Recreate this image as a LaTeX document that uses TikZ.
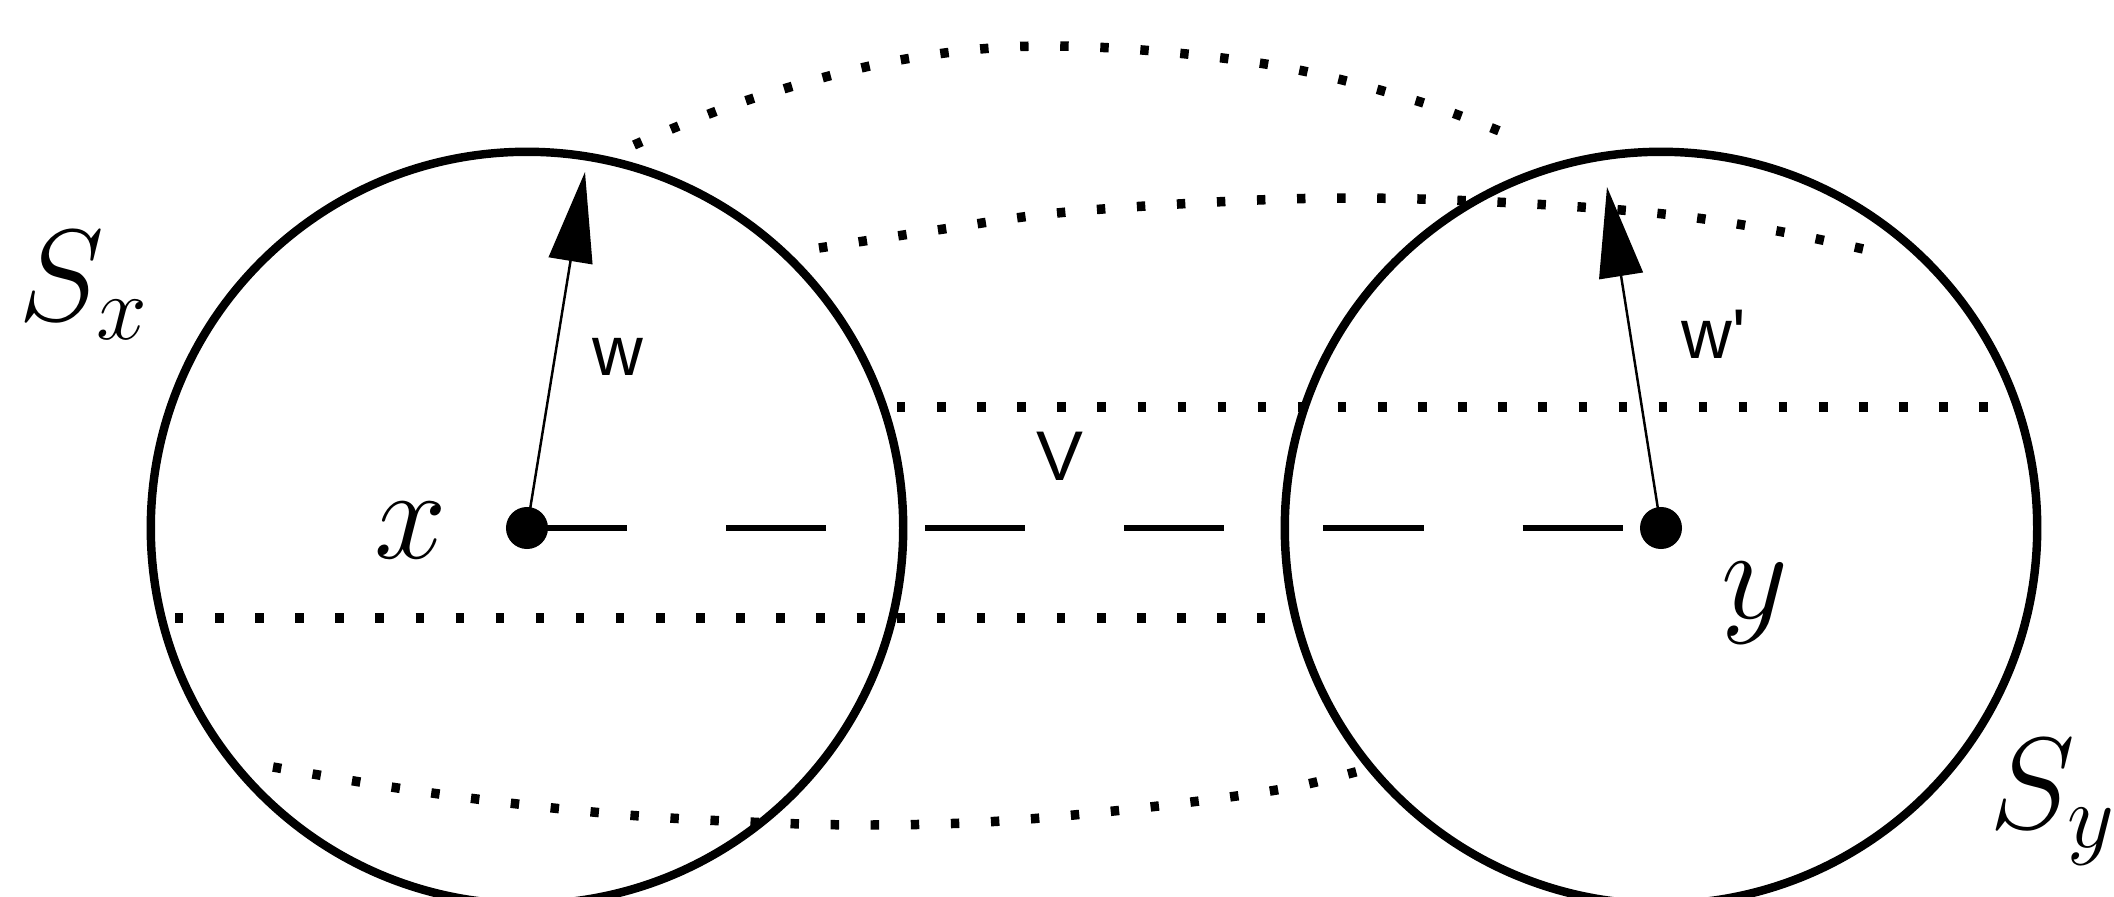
\documentclass[tikz,border=0pt]{standalone}
\usepackage{fix-cm}
\usepackage{fontspec}
\newfontfamily\labelfont{Liberation Sans}
\usetikzlibrary{arrows.meta}
\tikzset{
  dotline/.style={line width=2.7pt, dash pattern=on 2.4pt off 9pt, line cap=butt},
  ball/.style={circle, draw, line width=2.4pt, minimum size=7.52cm, inner sep=0pt},
  pt/.style={circle, fill=black, minimum size=0.42cm, inner sep=0pt},
  dashline/.style={line width=1.6pt, dash pattern=on 1cm off 0.99cm},
  radius arrow/.style={line width=0.7pt, -{Triangle[length=0.9cm,width=0.44cm]}},
  mathlbl/.style={anchor=base, inner sep=0pt, font=\fontsize{37}{40}\selectfont},
  sanslbl/.style={anchor=base, inner sep=0pt, font=\labelfont\fontsize{20}{22}\selectfont}
}
\begin{document}
\begin{tikzpicture}[x=0.01cm, y=-0.01cm]
\useasboundingbox (0,0) rectangle (2114,897);
% dotted lines
\draw[dotline] plot[smooth, tension=0.6] coordinates {(634,145) (748,100) (900,60) (1057,46) (1259,63) (1414,100) (1526,142)};
\draw[dotline] plot[smooth, tension=0.6] coordinates {(819,248) (937,230) (1057,213) (1215,202) (1350,198) (1495,202) (1654,213) (1772,230) (1890,255)};
\draw[dotline] plot[smooth, tension=0.6] coordinates {(273,767) (391,787) (509,803) (627,815) (748,822) (866,825) (985,822) (1104,812) (1222,798) (1303,785) (1381,765)};
\coordinate (hu1) at (897,407);
\coordinate (hu2) at (1990,407);
\coordinate (hl1) at (175,618);
\coordinate (hl2) at (1265,618);
\draw[dotline] (hu1) -- (hu2);
\draw[dotline] (hl1) -- (hl2);
% circles
\node[ball] (Sx) at (527,528) {};
\node[ball] (Sy) at (1661,528) {};
% centre points
\node[pt] (px) at (527,528) {};
\node[pt] (py) at (1661,528) {};
\draw[dashline] (px.center) -- (py.center);
% radius arrows
\coordinate (tx) at (585,172);
\coordinate (ty) at (1607,187);
\draw[radius arrow] (px.center) -- (tx);
\draw[radius arrow] (py.center) -- (ty);
% labels
\node[mathlbl] (lSx) at (84,320) {$S_x$};
\node[mathlbl] (lSy) at (2053,828) {$S_y$};
\node[mathlbl] (lx) at (411,558) {$x$};
\node[mathlbl] (ly) at (1755,618) {$y$};
\node[sanslbl] (lw) at (618,375) {w};
\node[sanslbl] (lw2) at (1714,358) {w'};
\node[sanslbl] (lV) at (1060,480) {V};
\end{tikzpicture}
\end{document}
